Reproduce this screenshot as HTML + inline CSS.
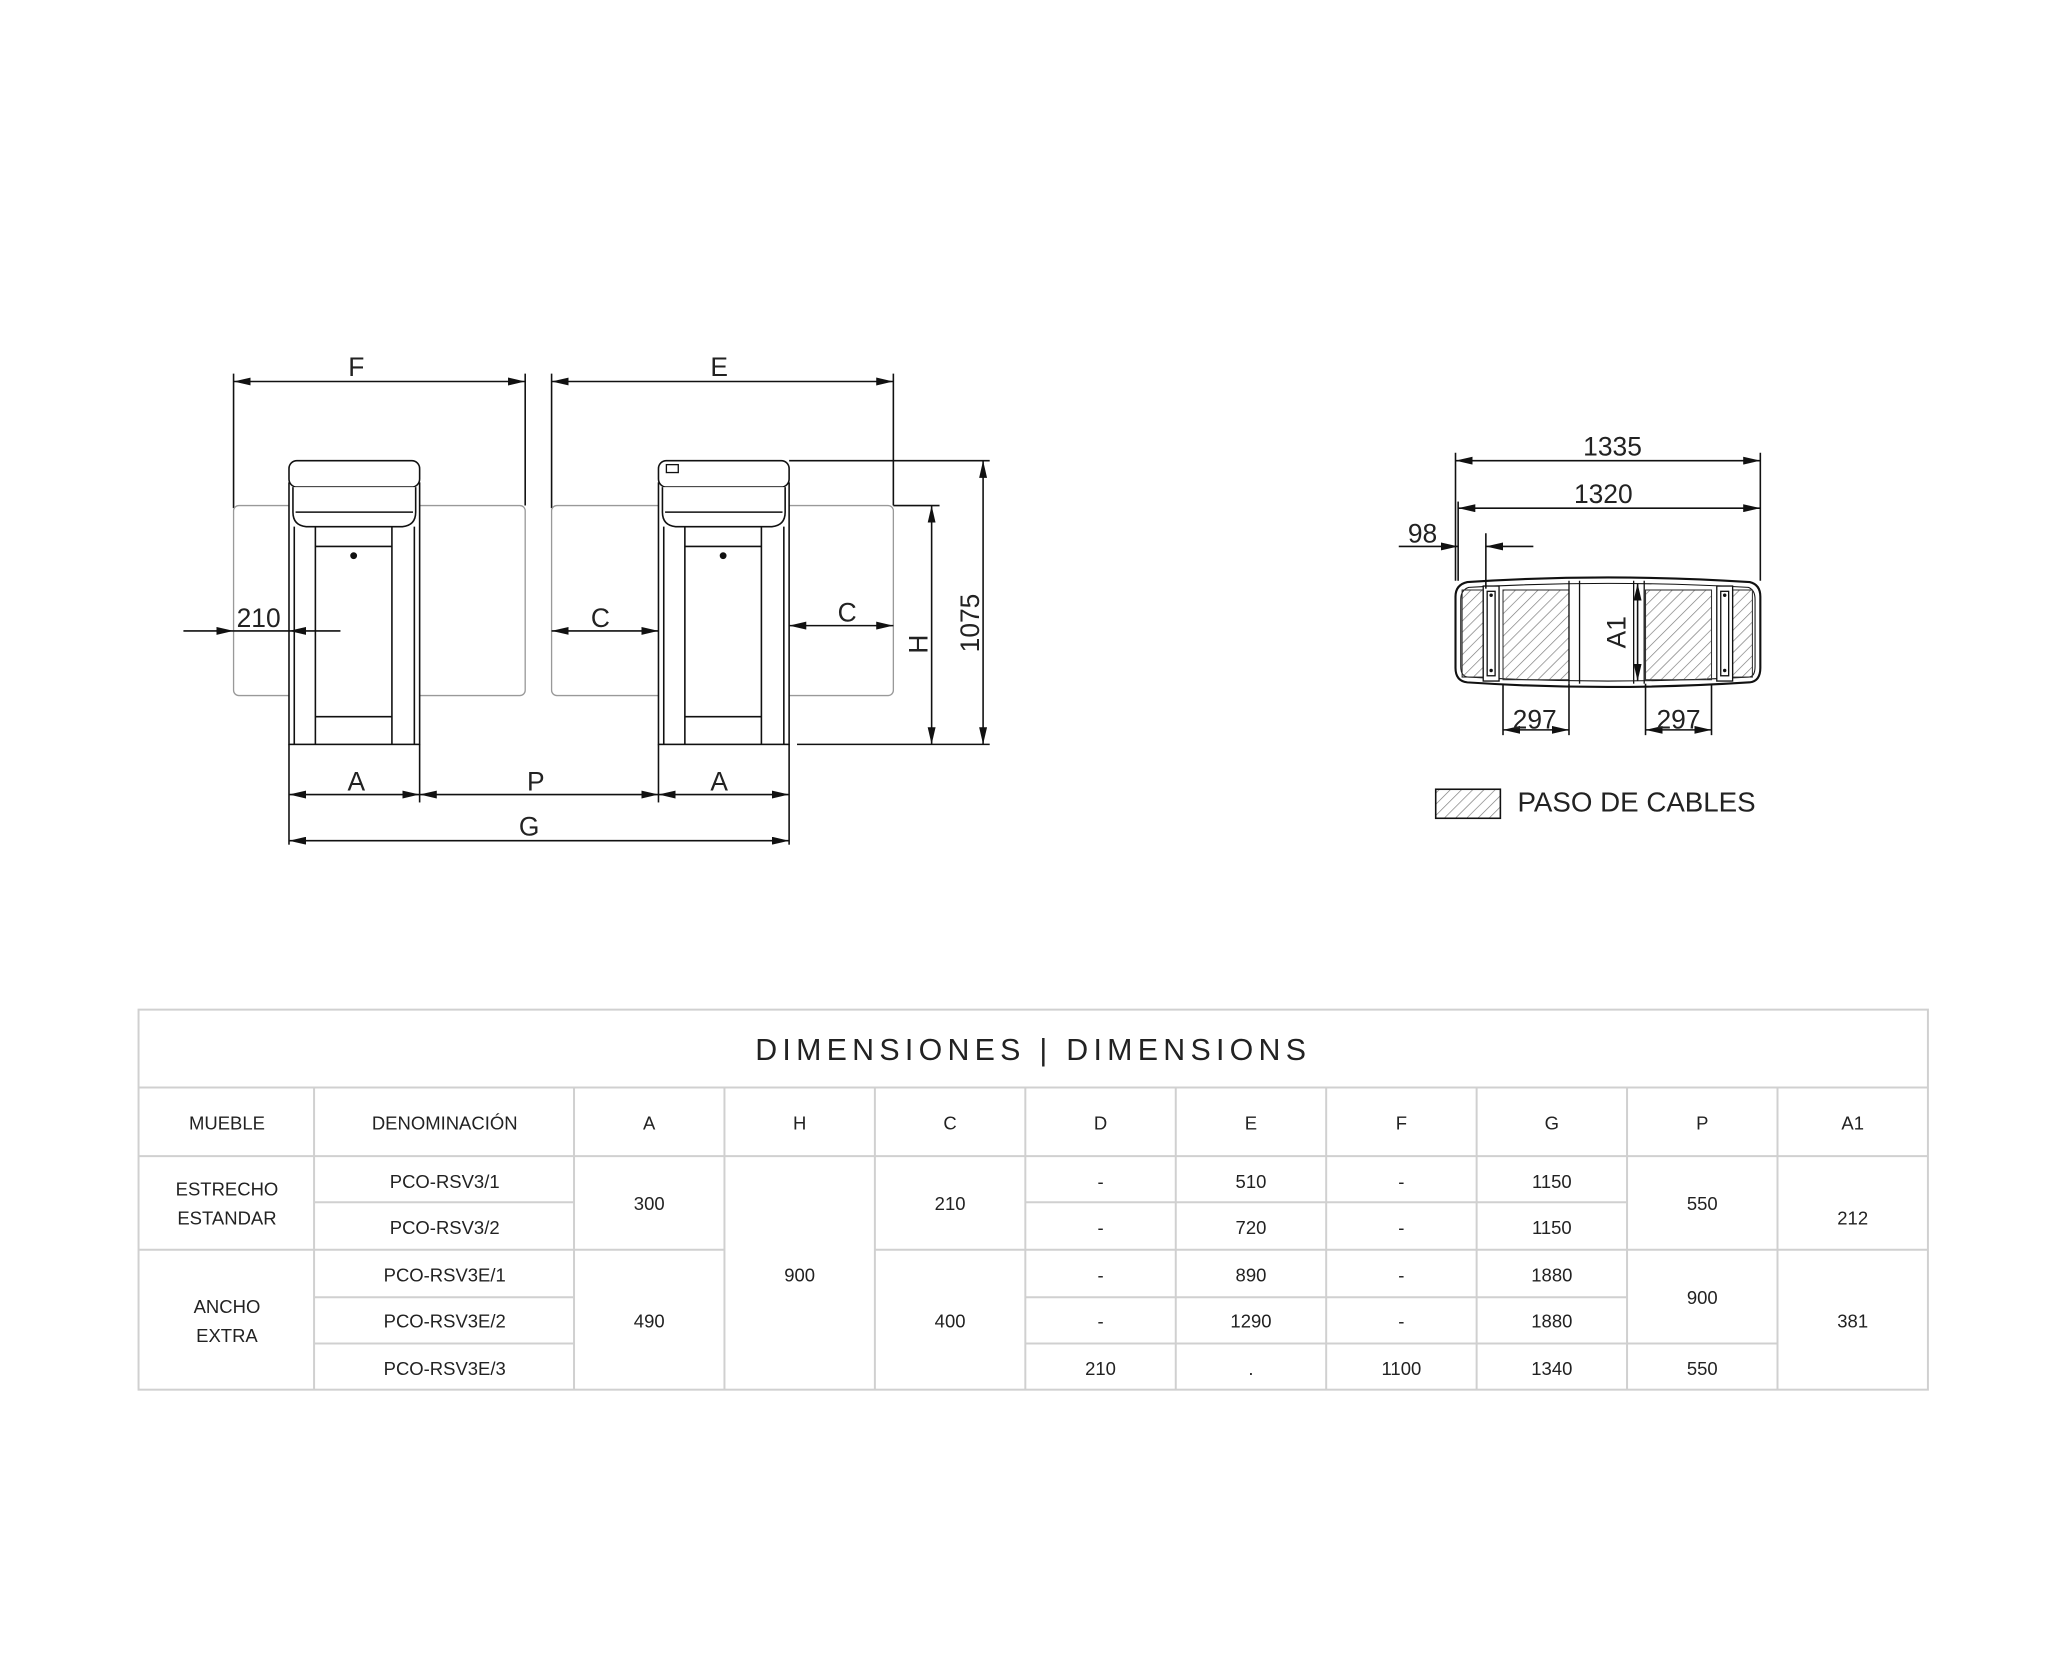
<!DOCTYPE html>
<html><head><meta charset="utf-8"><style>
html,body{margin:0;padding:0;background:#fff;}
svg{display:block;}
text{font-family:"Liberation Sans",sans-serif;fill:#222;}
</style></head><body>
<svg width="2048" height="1659" viewBox="0 0 1552 1257" xmlns="http://www.w3.org/2000/svg">
<defs>
<marker id="ar" viewBox="0 0 13 6" refX="13" refY="3" markerWidth="13" markerHeight="6" markerUnits="userSpaceOnUse" orient="auto-start-reverse"><path d="M0,0 L13,3 L0,6 z" fill="#111"/></marker>
<pattern id="hatch" width="6" height="6" patternUnits="userSpaceOnUse" patternTransform="rotate(45)"><line x1="0" y1="0" x2="0" y2="6" stroke="#777" stroke-width="1"/></pattern>
</defs>
<rect width="1552" height="1257" fill="#fff"/>
<g stroke="#111" stroke-width="1.2" fill="none">
<line x1="177" y1="283" x2="177" y2="385"/><line x1="398" y1="283" x2="398" y2="383"/>
<line x1="177" y1="289" x2="398" y2="289" marker-start="url(#ar)" marker-end="url(#ar)"/>
<line x1="418" y1="283" x2="418" y2="385"/><line x1="677" y1="283" x2="677" y2="383"/>
<line x1="418" y1="289" x2="677" y2="289" marker-start="url(#ar)" marker-end="url(#ar)"/>
</g>
<rect x="177" y="383" width="221" height="144" rx="4" fill="#fff" stroke="#999" stroke-width="1"/>
<rect x="418" y="383" width="259" height="144" rx="4" fill="#fff" stroke="#999" stroke-width="1"/>
<g stroke="#111" stroke-width="1.2" fill="#fff">
<g>
<rect x="219" y="366" width="99" height="198"/>
<rect x="219" y="349" width="99" height="20" rx="6"/>
<path d="M222,369 V388 Q222,398 232,399 H305 Q315,398 315,388 V369"/>
<line x1="224" y1="388" x2="313" y2="388"/>
<line x1="223" y1="399" x2="223" y2="564"/><line x1="314" y1="399" x2="314" y2="564"/>
<line x1="239" y1="399" x2="239" y2="564"/><line x1="297" y1="399" x2="297" y2="564"/>
<line x1="239" y1="414" x2="297" y2="414"/><line x1="239" y1="543" x2="297" y2="543"/>
<circle cx="268" cy="421" r="2" fill="#111"/>
</g>
<g transform="translate(280,0)">
<rect x="219" y="366" width="99" height="198"/>
<rect x="219" y="349" width="99" height="20" rx="6"/>
<path d="M222,369 V388 Q222,398 232,399 H305 Q315,398 315,388 V369"/>
<line x1="224" y1="388" x2="313" y2="388"/>
<line x1="223" y1="399" x2="223" y2="564"/><line x1="314" y1="399" x2="314" y2="564"/>
<line x1="239" y1="399" x2="239" y2="564"/><line x1="297" y1="399" x2="297" y2="564"/>
<line x1="239" y1="414" x2="297" y2="414"/><line x1="239" y1="543" x2="297" y2="543"/>
<circle cx="268" cy="421" r="2" fill="#111"/>
<rect x="225" y="352" width="9" height="6" stroke-width="1"/>
</g>
</g>
<g stroke="#111" stroke-width="1.2" fill="none">
<line x1="139" y1="478" x2="177" y2="478" marker-end="url(#ar)"/>
<line x1="258" y1="478" x2="219" y2="478" marker-end="url(#ar)"/>
<line x1="177" y1="478" x2="219" y2="478"/>
<line x1="418" y1="478" x2="499" y2="478" marker-start="url(#ar)" marker-end="url(#ar)"/>
<line x1="598" y1="474" x2="677" y2="474" marker-start="url(#ar)" marker-end="url(#ar)"/>
<line x1="677" y1="383" x2="712" y2="383"/>
<line x1="706" y1="383" x2="706" y2="564" marker-start="url(#ar)" marker-end="url(#ar)"/>
<line x1="598" y1="349" x2="750" y2="349"/><line x1="604" y1="564" x2="750" y2="564"/>
<line x1="745" y1="349" x2="745" y2="564" marker-start="url(#ar)" marker-end="url(#ar)"/>
<line x1="219" y1="564" x2="219" y2="640"/><line x1="318" y1="564" x2="318" y2="608"/>
<line x1="499" y1="564" x2="499" y2="608"/><line x1="598" y1="564" x2="598" y2="640"/>
<line x1="219" y1="602" x2="318" y2="602" marker-start="url(#ar)" marker-end="url(#ar)"/>
<line x1="318" y1="602" x2="499" y2="602" marker-start="url(#ar)" marker-end="url(#ar)"/>
<line x1="499" y1="602" x2="598" y2="602" marker-start="url(#ar)" marker-end="url(#ar)"/>
<line x1="219" y1="637" x2="598" y2="637" marker-start="url(#ar)" marker-end="url(#ar)"/>
</g>
<g font-size="20">
<text x="270" y="285" text-anchor="middle">F</text>
<text x="545" y="285" text-anchor="middle">E</text>
<text x="196" y="475" text-anchor="middle">210</text>
<text x="455" y="475" text-anchor="middle">C</text>
<text x="642" y="471" text-anchor="middle">C</text>
<text x="270" y="599" text-anchor="middle">A</text>
<text x="406" y="599" text-anchor="middle">P</text>
<text x="545" y="599" text-anchor="middle">A</text>
<text x="401" y="633" text-anchor="middle">G</text>
<text transform="translate(703,488) rotate(-90)" text-anchor="middle">H</text>
<text transform="translate(742,472) rotate(-90)" text-anchor="middle">1075</text>
</g>
<g stroke="#111" stroke-width="1.2" fill="none">
<path d="M1112,441 Q1218,434 1326,441 Q1334,443 1334,452 V506 Q1334,516 1326,517 Q1218,524 1112,517 Q1103,516 1103,506 V452 Q1103,443 1112,441 Z" stroke-width="1.6"/>
<path d="M1113,445 Q1218,439 1325,445 Q1330,447 1330,454 V505 Q1330,513 1325,513 Q1218,519 1113,513 Q1107,513 1107,505 V454 Q1107,447 1113,445 Z" stroke-width="0.8"/>
</g>
<g stroke="#333" stroke-width="0.8">
<rect x="1108" y="447" width="16" height="66" fill="url(#hatch)"/>
<rect x="1139" y="447" width="50" height="68" fill="url(#hatch)"/>
<rect x="1247" y="447" width="50" height="68" fill="url(#hatch)"/>
<rect x="1313" y="447" width="15" height="66" fill="url(#hatch)"/>
</g>
<g stroke="#111" stroke-width="1" fill="#fff">
<rect x="1124" y="444" width="12" height="72"/><rect x="1127" y="448" width="6" height="64"/>
<rect x="1301" y="444" width="12" height="72"/><rect x="1304" y="448" width="6" height="64"/>
<line x1="1189" y1="440" x2="1189" y2="518"/><line x1="1197" y1="440" x2="1197" y2="518"/>
<line x1="1238" y1="440" x2="1238" y2="518"/><line x1="1246" y1="440" x2="1246" y2="518"/>
</g>
<circle cx="1130" cy="451" r="1.3" fill="#111"/><circle cx="1130" cy="508" r="1.3" fill="#111"/>
<circle cx="1307" cy="451" r="1.3" fill="#111"/><circle cx="1307" cy="508" r="1.3" fill="#111"/>
<g stroke="#111" stroke-width="1.2" fill="none">
<line x1="1241" y1="442" x2="1241" y2="516" marker-start="url(#ar)" marker-end="url(#ar)"/>
<line x1="1103" y1="343" x2="1103" y2="440"/><line x1="1334" y1="343" x2="1334" y2="440"/>
<line x1="1105" y1="380" x2="1105" y2="440"/>
<line x1="1103" y1="349" x2="1334" y2="349" marker-start="url(#ar)" marker-end="url(#ar)"/>
<line x1="1105" y1="385" x2="1334" y2="385" marker-start="url(#ar)" marker-end="url(#ar)"/>
<line x1="1126" y1="404" x2="1126" y2="446"/>
<line x1="1060" y1="414" x2="1105" y2="414" marker-end="url(#ar)"/>
<line x1="1162" y1="414" x2="1126" y2="414" marker-end="url(#ar)"/>
<line x1="1139" y1="518" x2="1139" y2="557"/><line x1="1189" y1="518" x2="1189" y2="557"/>
<line x1="1247" y1="518" x2="1247" y2="557"/><line x1="1297" y1="518" x2="1297" y2="557"/>
<line x1="1139" y1="553" x2="1189" y2="553" marker-start="url(#ar)" marker-end="url(#ar)"/>
<line x1="1247" y1="553" x2="1297" y2="553" marker-start="url(#ar)" marker-end="url(#ar)"/>
</g>
<g font-size="20">
<text x="1222" y="345" text-anchor="middle">1335</text>
<text x="1215" y="381" text-anchor="middle">1320</text>
<text x="1078" y="411" text-anchor="middle">98</text>
<text x="1163" y="552" text-anchor="middle">297</text>
<text x="1272" y="552" text-anchor="middle">297</text>
<text transform="translate(1232,479) rotate(-90)" text-anchor="middle">A1</text>
</g>
<rect x="1088" y="598" width="49" height="22" fill="url(#hatch)" stroke="#111" stroke-width="1.2"/>
<text x="1150" y="615" font-size="21">PASO DE CABLES</text>
<g stroke="#d0d0d0" stroke-width="1.5" fill="none">
<rect x="105" y="765" width="1356" height="288"/>
<line x1="105" y1="824" x2="1461" y2="824"/>
<line x1="105" y1="876" x2="1461" y2="876"/>
<line x1="238" y1="824" x2="238" y2="1053"/>
<line x1="435" y1="824" x2="435" y2="1053"/>
<line x1="549" y1="824" x2="549" y2="1053"/>
<line x1="663" y1="824" x2="663" y2="1053"/>
<line x1="777" y1="824" x2="777" y2="1053"/>
<line x1="891" y1="824" x2="891" y2="1053"/>
<line x1="1005" y1="824" x2="1005" y2="1053"/>
<line x1="1119" y1="824" x2="1119" y2="1053"/>
<line x1="1233" y1="824" x2="1233" y2="1053"/>
<line x1="1347" y1="824" x2="1347" y2="1053"/>
<line x1="238" y1="911" x2="435" y2="911"/><line x1="777" y1="911" x2="1233" y2="911"/>
<line x1="105" y1="947" x2="549" y2="947"/><line x1="663" y1="947" x2="1461" y2="947"/>
<line x1="238" y1="983" x2="435" y2="983"/><line x1="777" y1="983" x2="1233" y2="983"/>
<line x1="238" y1="1018" x2="435" y2="1018"/><line x1="777" y1="1018" x2="1347" y2="1018"/>
</g>
<text x="783" y="803" font-size="23" text-anchor="middle" letter-spacing="4" style="font-weight:300">DIMENSIONES | DIMENSIONS</text>
<g font-size="14" text-anchor="middle">
<text x="172" y="856">MUEBLE</text><text x="337" y="856">DENOMINACIÓN</text>
<text x="492" y="856">A</text><text x="606" y="856">H</text><text x="720" y="856">C</text><text x="834" y="856">D</text>
<text x="948" y="856">E</text><text x="1062" y="856">F</text><text x="1176" y="856">G</text><text x="1290" y="856">P</text><text x="1404" y="856">A1</text>
<text x="172" y="906">ESTRECHO</text><text x="172" y="928">ESTANDAR</text>
<text x="172" y="995">ANCHO</text><text x="172" y="1017">EXTRA</text>
<text x="337" y="900">PCO-RSV3/1</text><text x="337" y="935">PCO-RSV3/2</text>
<text x="337" y="971">PCO-RSV3E/1</text><text x="337" y="1006">PCO-RSV3E/2</text><text x="337" y="1042">PCO-RSV3E/3</text>
<text x="492" y="917">300</text><text x="492" y="1006">490</text>
<text x="606" y="971">900</text>
<text x="720" y="917">210</text><text x="720" y="1006">400</text>
<text x="834" y="900">-</text><text x="834" y="935">-</text><text x="834" y="971">-</text><text x="834" y="1006">-</text><text x="834" y="1042">210</text>
<text x="948" y="900">510</text><text x="948" y="935">720</text><text x="948" y="971">890</text><text x="948" y="1006">1290</text><text x="948" y="1042">.</text>
<text x="1062" y="900">-</text><text x="1062" y="935">-</text><text x="1062" y="971">-</text><text x="1062" y="1006">-</text><text x="1062" y="1042">1100</text>
<text x="1176" y="900">1150</text><text x="1176" y="935">1150</text><text x="1176" y="971">1880</text><text x="1176" y="1006">1880</text><text x="1176" y="1042">1340</text>
<text x="1290" y="917">550</text><text x="1290" y="988">900</text><text x="1290" y="1042">550</text>
<text x="1404" y="928">212</text><text x="1404" y="1006">381</text>
</g>
</svg>
</body></html>
